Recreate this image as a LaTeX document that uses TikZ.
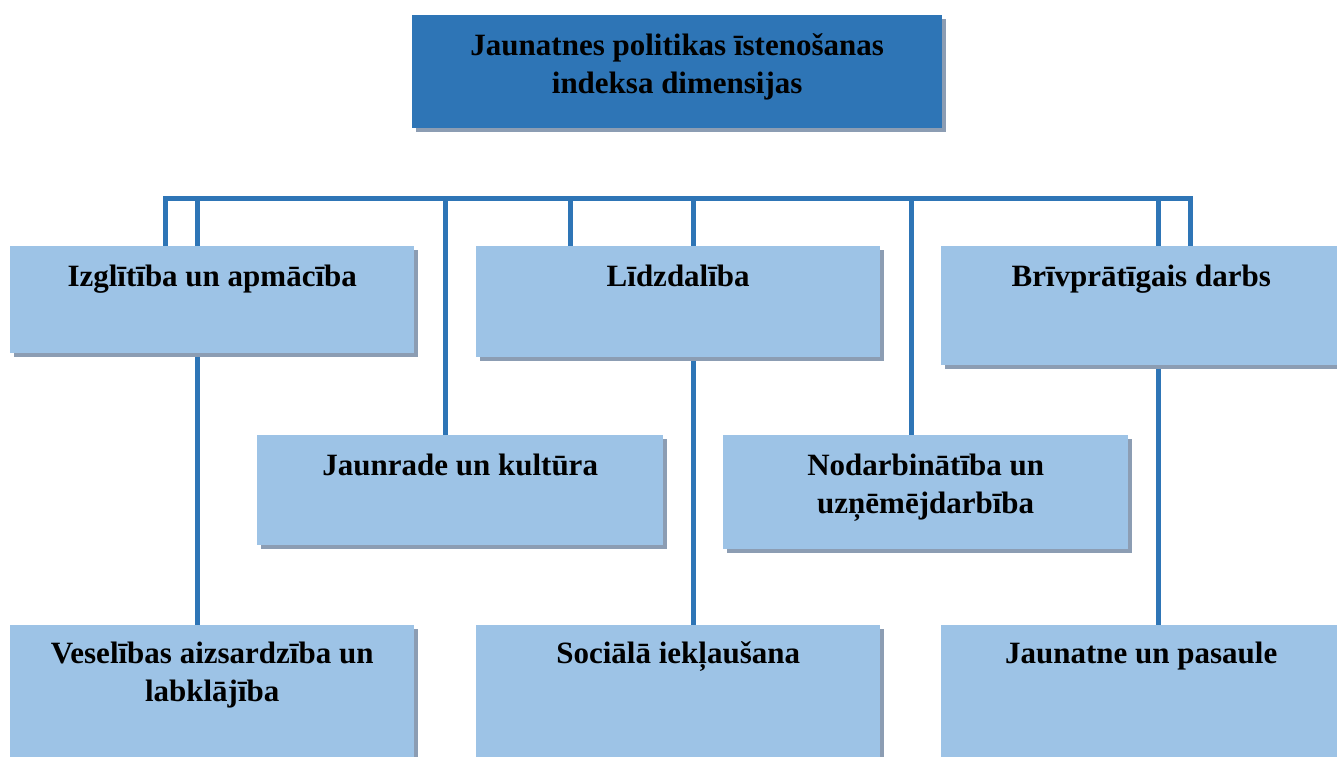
\documentclass[tikz,border=0pt]{standalone}
\usepackage{fontspec}
\setmainfont{Liberation Serif}
\usetikzlibrary{shadows,backgrounds,calc}
\definecolor{dblue}{HTML}{2E75B6}
\definecolor{lblue}{HTML}{9DC3E6}
\definecolor{shd}{HTML}{8C9DB3}
\begin{document}
\begin{tikzpicture}[x=1pt,y=-1pt,
  box/.style={rectangle, draw=none, inner sep=0pt, anchor=north west,
    drop shadow={shadow xshift=3.5pt, shadow yshift=-3.5pt, fill=shd, opacity=1}},
  lbox/.style={box, fill=lblue},
  tbox/.style={box, fill=dblue},
  lbl/.style={anchor=north, align=center, inner sep=0pt,
    font=\bfseries\fontsize{31}{38}\selectfont, text=black},
  conn/.style={draw=dblue, line width=5pt, line join=miter}]
\useasboundingbox (0,0) rectangle (1337,756);

% boxes
\node[tbox, minimum width=530pt, minimum height=113pt] (top) at (412,15) {};
\node[lbox, minimum width=404pt, minimum height=107pt] (izg) at (10,246) {};
\node[lbox, minimum width=404pt, minimum height=111pt] (lid) at (476,246) {};
\node[lbox, minimum width=420pt, minimum height=119pt] (brv) at (941,246) {};
\node[lbox, minimum width=406pt, minimum height=110pt] (jau) at (257,435) {};
\node[lbox, minimum width=405pt, minimum height=114pt] (nod) at (723,435) {};
\node[lbox, minimum width=404pt, minimum height=140pt] (ves) at (10,625) {};
\node[lbox, minimum width=404pt, minimum height=140pt] (soc) at (476,625) {};
\node[lbox, minimum width=420pt, minimum height=140pt] (pas) at (941,625) {};

% texts
\node[lbl] (top-t) at ($(top.north)+(0,13.4)$) {\strut Jaunatnes politikas īstenošanas\\\strut indeksa dimensijas};
\node[lbl] (izg-t) at ($(izg.north)+(0,14)$) {\strut Izglītība un apmācība};
\node[lbl] (lid-t) at ($(lid.north)+(0,14)$) {\strut Līdzdalība};
\node[lbl] (brv-t) at ($(brv.north)+(-10,14)$) {\strut Brīvprātīgais darbs};
\node[lbl] (jau-t) at ($(jau.north)+(0,14)$) {\strut Jaunrade un kultūra};
\node[lbl] (nod-t) at ($(nod.north)+(0,13.4)$) {\strut Nodarbinātība un\\\strut uzņēmējdarbība};
\node[lbl] (ves-t) at ($(ves.north)+(0,11.4)$) {\strut Veselības aizsardzība un\\\strut labklājība};
\node[lbl] (soc-t) at ($(soc.north)+(0,11.4)$) {\strut Sociālā iekļaušana};
\node[lbl] (pas-t) at ($(pas.north)+(-10,11.4)$) {\strut Jaunatne un pasaule};

% connectors
\begin{scope}[on background layer]
\coordinate (busL) at (165,198);
\coordinate (busR) at (1190,198);
\draw[conn] (izg.north -| busL) |- (busR) -- (brv.north -| busR);
\draw[conn] ([xshift=-15pt]ves.north) -- ([xshift=-15pt]ves.north |- busL);
\draw[conn] ([xshift=-15pt]jau.north) -- ([xshift=-15pt]jau.north |- busL);
\draw[conn] ([xshift=-108pt]lid.north) -- ([xshift=-108pt]lid.north |- busL);
\draw[conn] ([xshift=15pt]soc.north) -- ([xshift=15pt]soc.north |- busL);
\draw[conn] ([xshift=-14.5pt]nod.north) -- ([xshift=-14.5pt]nod.north |- busL);
\draw[conn] ([xshift=7pt]pas.north) -- ([xshift=7pt]pas.north |- busL);
\end{scope}
\end{tikzpicture}
\end{document}
